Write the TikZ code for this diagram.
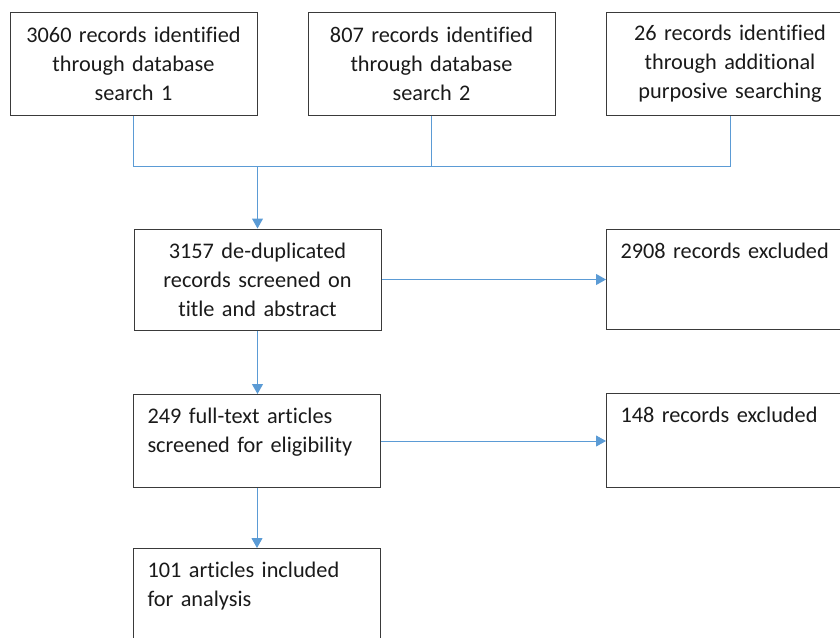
\documentclass[tikz,border=0pt]{standalone}
\usepackage{fontspec}
\setmainfont{Carlito}[Ligatures=NoCommon]
\usetikzlibrary{arrows.meta}
\definecolor{flowblue}{HTML}{5B9BD5}
\definecolor{boxline}{HTML}{3A3A3A}
\definecolor{boxtext}{HTML}{1A1A1A}
\begin{document}
\begin{tikzpicture}[x=1pt,y=-1pt,
  box/.style={draw=boxline, line width=1pt, rectangle, minimum width=247pt,
    font=\fontsize{22.3}{29}\selectfont, text=boxtext, inner sep=0pt},
  cbox/.style={box, text width=232pt, align=center},
  lbox/.style={box, text width=219pt, align=left, inner xsep=14pt, inner ysep=0pt,
    text height=28.5pt, anchor=north west},
  link/.style={flowblue, line width=1pt},
  arrow/.style={link, -{Triangle[width=11pt,length=10pt]}}]
\useasboundingbox (0,0) rectangle (840,637);

% identification sources
\node[cbox, minimum height=103pt] (src1) at (133.5,63.5)
  {3060 records identified\\through database\\search 1};
\node[cbox, minimum height=103pt] (src2) at (431.5,63.5)
  {807 records identified\\through database\\search 2};
\node[cbox, minimum height=103pt, minimum width=248pt] (src3) at (730,63.5)
  {26 records identified\\through additional\\purposive searching};

% screening stages
\node[cbox, minimum height=101pt] (screen) at (257.5,279.5)
  {3157 de-duplicated\\records screened on\\title and abstract};
\node[lbox, text depth=71.5pt] (excl1) at (606,229) {2908 records excluded};
\node[lbox, text depth=64.5pt] (full) at (133,394)
  {249 full-text articles\\screened for eligibility};
\node[lbox, text depth=65.5pt] (excl2) at (606,393) {148 records excluded};
\node[lbox, text depth=71.5pt] (final) at (133,548)
  {101 articles included\\for analysis};

% connectors
\coordinate (bus) at (0,166);
\draw[link] (src1.south) |- (src3.south |- bus) -- (src3.south);
\draw[link] (src2.south) -- (src2.south |- bus);
\draw[arrow] (screen.north |- bus) -- (screen.north);
\draw[arrow] (screen.east) -- (excl1.west |- screen.east);
\draw[arrow] (screen.south) -- (screen.south |- full.north);
\draw[arrow] (full.east) -- (excl2.west |- full.east);
\draw[arrow] (full.south) -- (final.north);
\end{tikzpicture}
\end{document}
